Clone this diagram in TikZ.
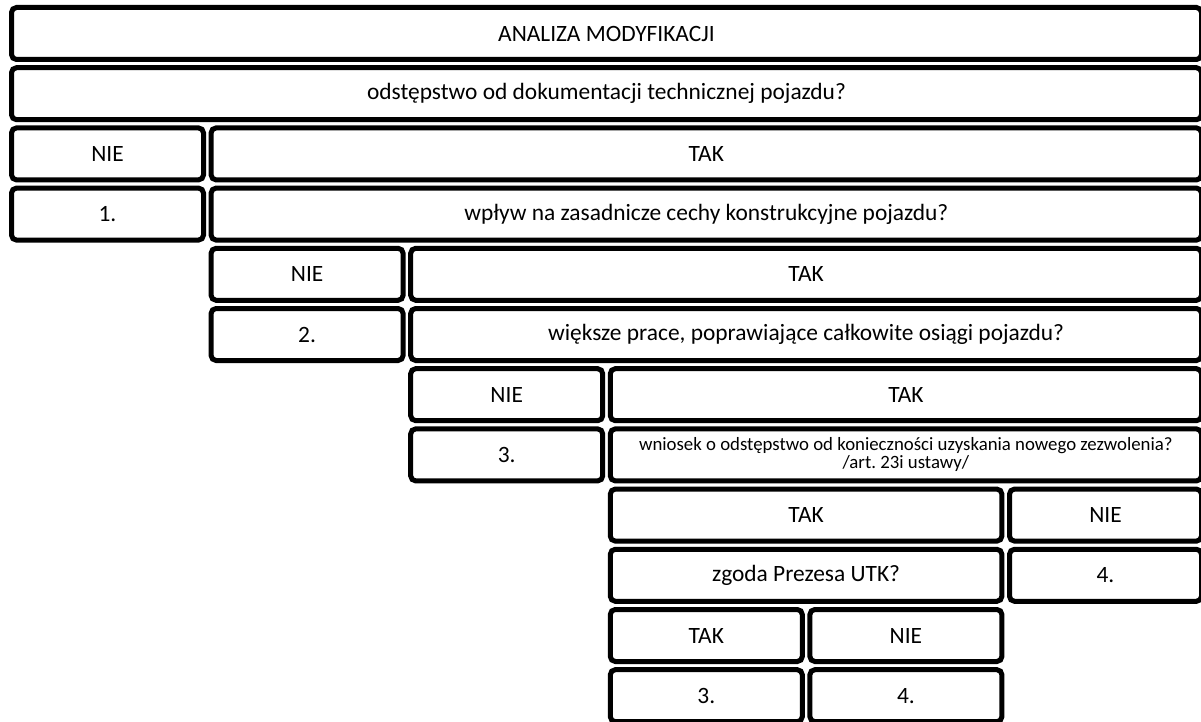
\documentclass[tikz,border=0pt]{standalone}
\usepackage{fontspec}
\setmainfont{Carlito}
\usepackage{tikz}
\newlength{\pxu}
\setlength{\pxu}{0.5pt}

\begin{document}
\frenchspacing
\begin{tikzpicture}[x=0.5pt,y=-0.5pt,font=\fontsize{11.7}{13}\selectfont,
  cell/.style={draw,line width=2.5pt,rounded corners=2.5pt,rectangle,inner sep=0pt,
    align=center,minimum width=#1\pxu,minimum height=52\pxu},
  small/.style={font=\fontsize{9.4}{9}\selectfont}]
\useasboundingbox (0,0) rectangle (1201,722);
\node[cell=1190](analiza) at(606.5,33.5) {ANALIZA MODYFIKACJI};
\node[cell=1190](q1) at(606.5,93.7) {odstępstwo od dokumentacji technicznej pojazdu?};
% krok 1
\node[cell=192](nie1) at(107.5,153.9) {NIE};
\node[cell=990.4](tak1) at(706.3,153.9) {TAK};
\node[cell=192](w1) at(107.5,214.1) {1.};
\node[cell=990.4](q2) at(706.3,214.1) {wpływ na zasadnicze cechy konstrukcyjne pojazdu?};
% krok 2
\node[cell=192](nie2) at(307.1,274.3) {NIE};
\node[cell=790.8](tak2) at(806.1,274.3) {TAK};
\node[cell=192](w2) at(307.1,334.5) {2.};
\node[cell=790.8](q3) at(806.1,334.5) {większe prace, poprawiające całkowite osiągi pojazdu?};
% krok 3
\node[cell=192](nie3) at(506.7,394.7) {NIE};
\node[cell=591.2](tak3) at(905.9,394.7) {TAK};
\node[cell=192](w3) at(506.7,454.9) {3.};
\node[cell=591.2,small](q4) at(905.9,454.9) {wniosek o odstępstwo od konieczności uzyskania nowego zezwolenia?\\/art. 23i ustawy/};
% krok 4
\node[cell=391.6](tak4) at(806.1,515.1) {TAK};
\node[cell=192](nie4) at(1105.5,515.1) {NIE};
\node[cell=391.6](q5) at(806.1,575.3) {zgoda Prezesa UTK?};
\node[cell=192](w4) at(1105.5,575.3) {4.};
% krok 5
\node[cell=192](tak5) at(706.3,635.5) {TAK};
\node[cell=192](nie5) at(905.9,635.5) {NIE};
\node[cell=192](w5) at(706.3,695.7) {3.};
\node[cell=192](w6) at(905.9,695.7) {4.};
\end{tikzpicture}
\end{document}
